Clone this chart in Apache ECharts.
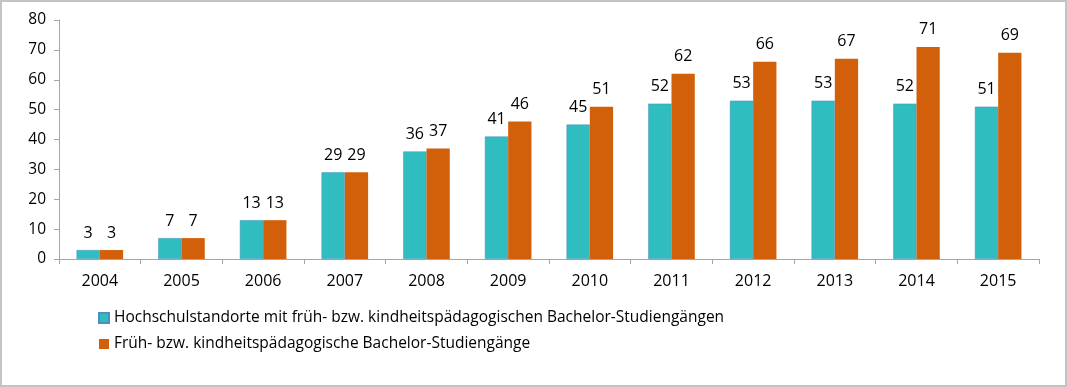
<!DOCTYPE html>
<html><head><meta charset="utf-8">
<script src="https://cdn.jsdelivr.net/npm/echarts@6/dist/echarts.min.js"></script>
<style>
html,body{margin:0;padding:0;background:#fff;}
#frame{position:absolute;left:0;top:0;width:1067px;height:387px;box-sizing:border-box;border:2px solid #c3c3c3;}
#chart{position:absolute;left:0;top:0;width:1067px;height:387px;}
</style></head>
<body>
<div id="frame"></div>
<div id="chart"></div>
<script>
const years = ['2004','2005','2006','2007','2008','2009','2010','2011','2012','2013','2014','2015'];
const standorte = [3,7,13,29,36,41,45,52,53,53,52,51];
const studiengaenge = [3,7,13,29,37,46,51,62,66,67,71,69];
const seriesNames = ['Hochschulstandorte mit früh- bzw. kindheitspädagogischen Bachelor-Studiengängen','Früh- bzw. kindheitspädagogische Bachelor-Studiengänge'];
const FONT = 'Open Sans';
const chart = echarts.init(document.getElementById('chart'));
const labelStyle = {show:true, position:'top', distance:9, color:'#000', fontFamily:FONT, fontSize:16};
chart.setOption({
  animation:false,
  textStyle:{fontFamily:FONT},
  grid:{left:59, right:28, top:20, bottom:128},
  legend:{
    orient:'vertical', left:93, top:304, itemGap:8, itemWidth:10, itemHeight:10,
    icon:'rect', textStyle:{fontFamily:FONT, fontSize:15.5, lineHeight:18, color:'#000', padding:[0,0,0,0]},
    data:seriesNames
  },
  xAxis:{
    type:'category', data:years, boundaryGap:true,
    axisLine:{lineStyle:{color:'#a6a6a6'}},
    axisTick:{show:true, length:5, lineStyle:{color:'#a6a6a6'}},
    axisLabel:{color:'#000', fontFamily:FONT, fontSize:16, margin:14}
  },
  yAxis:{
    type:'value', min:0, max:80, interval:10,
    splitLine:{show:false},
    axisLine:{show:true, lineStyle:{color:'#a6a6a6'}},
    axisTick:{show:true, length:5, lineStyle:{color:'#a6a6a6'}},
    axisLabel:{color:'#000', fontFamily:FONT, fontSize:15.5, margin:13}
  },
  series:[
    {name:seriesNames[0], type:'bar', data:standorte, barGap:'0%', barCategoryGap:'43%',
     itemStyle:{color:'#2fbdc0', borderColor:'#4a8fc0', borderWidth:0.5}, label:labelStyle},
    {name:seriesNames[1], type:'bar', data:studiengaenge, barGap:'0%', barCategoryGap:'43%',
     itemStyle:{color:'#d2600a'}, label:labelStyle}
  ]
});
</script>
</body></html>
